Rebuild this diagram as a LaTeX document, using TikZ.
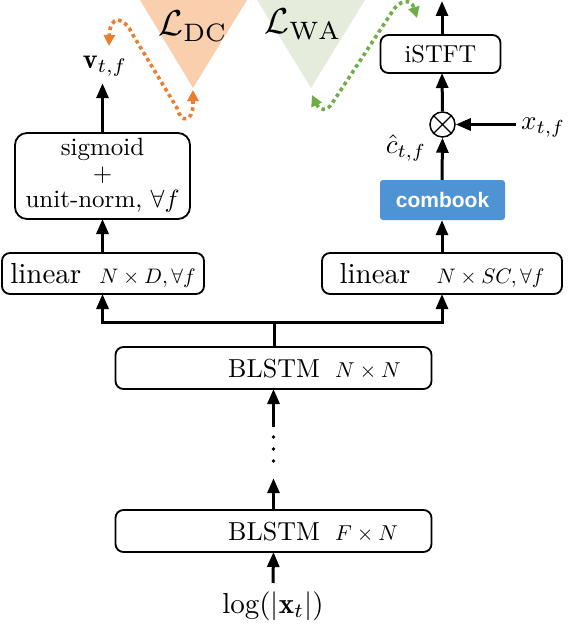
\documentclass[tikz,border=0pt]{standalone}
\usepackage{graphicx}
\usepackage{fontspec}
\newfontfamily\cbfont{Liberation Sans}
\usetikzlibrary{arrows.meta}
\definecolor{cbblue}{HTML}{4E94D4}
\definecolor{dcfill}{HTML}{F9CFAE}
\definecolor{wafill}{HTML}{E6ECDB}
\definecolor{dcline}{HTML}{EC7D32}
\definecolor{waline}{HTML}{6FAD46}
\newcommand{\fsz}[1]{\fontsize{#1}{#1}\selectfont}
\newcommand{\scl}[2]{\scalebox{#1}{#2}}
\begin{document}
\begin{tikzpicture}[x=1pt,y=-1pt,
  box/.style={draw,line width=1.8pt,rounded corners=8pt,inner sep=0pt,outer sep=0pt},
  arr/.style={line width=3pt,-{Triangle[length=15pt,width=12pt]}},
  conn/.style={line width=3pt},
  lossdc/.style={draw=dcline,line width=3.6pt,dash pattern=on 3.6pt off 3.4pt,
     {Triangle[length=11pt,width=11pt]}-{Triangle[length=11pt,width=11pt]}},
  losswa/.style={lossdc,draw=waline},
  lbl/.style={inner sep=0pt}]
\useasboundingbox (0,0) rectangle (573,626);
% loss triangles
\fill[dcfill] (140,0) -- (247,0) -- (193,88) -- cycle;
\fill[wafill] (257,0) -- (365,0) -- (311,88) -- cycle;
\node[lbl,anchor=base] (ldc) at (193,36) {\scl{3.6}{$\mathcal{L}_{\mathrm{DC}}$}};
\node[lbl,anchor=base] (lwa) at (303,34) {\scl{3.6}{$\mathcal{L}_{\mathrm{WA}}$}};
\coordinate (dctip) at (193,90);
\coordinate (watip) at (312,95);
% columns
\coordinate (colL) at (102.5,0);
\coordinate (colR) at (442,0);
% left branch
\node[lbl,anchor=base] (vt) at (105,68) {\scl{2.8}{$\mathbf{v}_{t,f}$}};
\node[box,rounded corners=12pt,minimum width=175pt,minimum height=86pt] (sig) at (102.5,176)
  {\scl{2.5}{\renewcommand{\arraystretch}{0.87}\begin{tabular}{@{}c@{}}sigmoid\\$+$\\unit-norm, $\forall f$\end{tabular}}};
\node[box,minimum width=202pt,minimum height=41pt,text depth=0pt] (linL) at (103,273.5)
  {\scl{2.9}{linear}\hspace{18pt}\scl{2.1}{$N\times D,\forall f$}};
% right branch
\node[box,minimum width=240pt,minimum height=41pt,text depth=0pt] (linR) at (442,273.5)
  {\scl{2.9}{linear}\hspace{26pt}\scl{2.1}{$N\times SC,\forall f$}};
\node[fill=cbblue,rounded corners=3pt,minimum width=125pt,minimum height=40pt,text=white,
  font=\cbfont\bfseries\fsz{21}] (comb) at (442.5,200) {combook};
\node[draw,circle,line width=1.5pt,minimum size=25pt,inner sep=0pt] (ot) at (442.5,124.5) {};
\draw[line width=1.2pt] (ot.north west) -- (ot.south east) (ot.north east) -- (ot.south west);
\node[lbl,anchor=base] (chat) at (406,153) {\scl{2.7}{$\hat{c}_{t,f}$}};
\node[lbl,anchor=base west] (xt) at (521,129) {\scl{2.7}{$x_{t,f}$}};
\node[box,minimum width=120pt,minimum height=38pt] (istft) at (440.5,54) {\scl{2.45}{iSTFT}};
\coordinate (outtop) at (442,1);
% trunk
\node[box,minimum width=316pt,minimum height=42pt] (b1) at (273.5,368) {};
\node[lbl,anchor=base] (b1t) at (274,377) {\scl{2.6}{BLSTM}};
\node[lbl,anchor=base west] (b1d) at (335,377) {\scl{2.15}{$N\times N$}};
\node[box,minimum width=316pt,minimum height=42pt] (b2) at (273.5,531) {};
\node[lbl,anchor=base] (b2t) at (274,540) {\scl{2.6}{BLSTM}};
\node[lbl,anchor=base west] (b2d) at (335,540) {\scl{2.15}{$F\times N$}};
\node[lbl,minimum height=51pt,minimum width=6pt] (dots) at (273.5,452.5) {};
\fill (273.5,437) circle (1.8pt) (273.5,449) circle (1.8pt) (273.5,461) circle (1.8pt);
\node[lbl,anchor=base] (inp) at (273,613) {\scl{2.9}{$\log(|\mathbf{x}_t|)$}};
% connectors
\draw[arr] (inp.north |- 0,583) -- (b2.south);
\draw[arr] (b2.north) -- (dots.south);
\draw[arr] (dots.north) -- (b1.south);
\coordinate (split) at (274,322);
\draw[conn] (b1.north -| split) -- (split);
\draw[arr] (split) -| (linL.south -| colL);
\draw[arr] (split) -| (linR.south -| colR);
\draw[arr] (linL.north -| colL) -- (sig.south -| colL);
\draw[arr] (sig.north -| colL) -- ([yshift=-7pt]vt.south -| colL);
\draw[arr] (linR.north -| colR) -- (comb.south -| colR);
\draw[arr] (comb.north -| colR) -- (ot.south);
\draw[arr] (ot.north) -- (istft.south -| colR);
\draw[arr] (istft.north -| colR) -- (outtop);
\draw[arr] ([xshift=-5pt]xt.west |- ot.east) -- (ot.east);
% loss curves
\draw[lossdc] (dctip) -- (193,104) .. controls (193,122) and (181,124) .. (177,108)
  -- (133,35) .. controls (124,16) and (110,14) .. (109,46);
\draw[losswa] (watip) .. controls (319,110) and (327,113) .. (333,102)
  -- (392,12) .. controls (399,0) and (411,-2) .. (417,18);
\end{tikzpicture}
\end{document}
